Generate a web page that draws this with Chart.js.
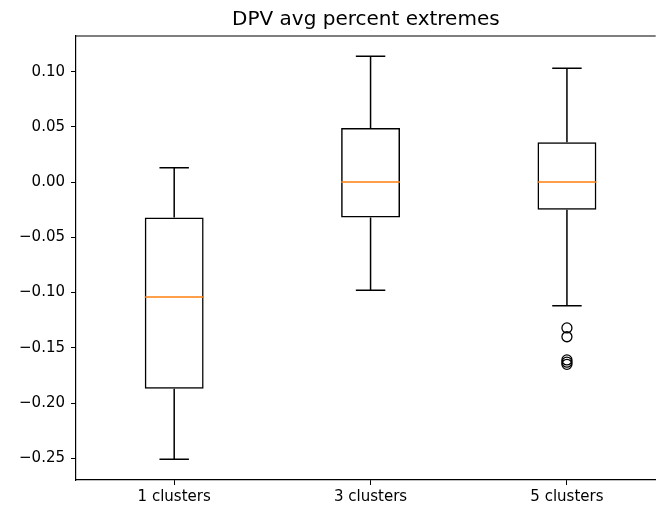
<!DOCTYPE html>
<html>
<head>
<meta charset="utf-8">
<script src="https://cdn.jsdelivr.net/npm/chart.js@4/dist/chart.umd.min.js"></script>
<style>
html,body{margin:0;padding:0;background:#fff;overflow:hidden;}
canvas{display:block;}
</style>
</head>
<body>
<canvas id="c" width="662" height="510" style="width:662px;height:510px"></canvas>
<script>
const titleText = 'DPV avg percent extremes';
const categories = ['1 clusters', '3 clusters', '5 clusters'];
const positions = [1, 2, 3];
const whiskerLow = [-0.251, -0.098, -0.112];
const q1 = [-0.187, -0.032, -0.025];
const medians = [-0.104, 0.0, 0.0];
const q3 = [-0.032, 0.049, 0.036];
const whiskerHigh = [0.013, 0.114, 0.103];
const outlierPosition = 3;
const outliers = [-0.132, -0.140, -0.161, -0.163, -0.165];
const yTicks = [-0.25, -0.20, -0.15, -0.10, -0.05, 0.00, 0.05, 0.10];
const yMin = -0.2697;
const yMax = 0.1323;
const xMin = 0.5;
const xMax = 3.452;

const FONT = 'DejaVu Sans';
const LW = 1.5;

const boxPlugin = {
  id: 'boxParts',
  afterDatasetsDraw(chart) {
    const ctx = chart.ctx;
    const xs = chart.scales.x, ys = chart.scales.y;
    const meta = chart.getDatasetMeta(0);
    ctx.save();
    ctx.lineWidth = LW;
    positions.forEach((p, i) => {
      const x = xs.getPixelForValue(p);
      const w = meta.data[i].width;
      const capHalf = w / 4;
      ctx.strokeStyle = '#000';
      ctx.beginPath();
      ctx.moveTo(x, ys.getPixelForValue(q3[i]));
      ctx.lineTo(x, ys.getPixelForValue(whiskerHigh[i]));
      ctx.moveTo(x, ys.getPixelForValue(q1[i]));
      ctx.lineTo(x, ys.getPixelForValue(whiskerLow[i]));
      const yh = ys.getPixelForValue(whiskerHigh[i]);
      const yl = ys.getPixelForValue(whiskerLow[i]);
      ctx.moveTo(x - capHalf, yh); ctx.lineTo(x + capHalf, yh);
      ctx.moveTo(x - capHalf, yl); ctx.lineTo(x + capHalf, yl);
      ctx.stroke();
      const ym = ys.getPixelForValue(medians[i]);
      ctx.strokeStyle = '#ff7f0e';
      ctx.beginPath();
      ctx.moveTo(x - w / 2, ym); ctx.lineTo(x + w / 2, ym);
      ctx.stroke();
    });
    const a = chart.chartArea;
    ctx.strokeStyle = '#000';
    ctx.lineWidth = 1.2;
    ctx.beginPath();
    ctx.moveTo(a.left, a.top); ctx.lineTo(a.right, a.top);
    ctx.stroke();
    ctx.restore();
  }
};

new Chart(document.getElementById('c'), {
  type: 'bar',
  data: {
    datasets: [
      {
        label: 'box',
        data: positions.map((p, i) => ({ x: p, y: [q1[i], q3[i]] })),
        backgroundColor: 'rgba(0,0,0,0)',
        borderColor: '#000',
        borderWidth: LW,
        borderSkipped: false,
        categoryPercentage: 1.0,
        barPercentage: 0.3
      },
      {
        type: 'line',
        label: 'outliers',
        data: outliers.map(v => ({ x: outlierPosition, y: v })),
        showLine: false,
        pointStyle: 'circle',
        pointRadius: 5,
        pointBorderColor: '#000',
        pointBackgroundColor: 'rgba(0,0,0,0)',
        pointBorderWidth: 1.3
      }
    ]
  },
  options: {
    responsive: false,
    animation: false,
    devicePixelRatio: 1,
    layout: { padding: { left: 0, right: 0, top: 0, bottom: 0 } },
    plugins: {
      legend: { display: false },
      tooltip: { enabled: false },
      title: {
        display: true,
        text: titleText,
        fullSize: false,
        color: '#000',
        font: { family: FONT, size: 20, weight: 'normal' },
        padding: { top: 8, bottom: 4 }
      }
    },
    scales: {
      x: {
        type: 'linear',
        min: xMin,
        max: xMax,
        offset: false,
        grid: { display: true, offset: false, drawOnChartArea: false, drawTicks: true, tickLength: 5, tickColor: '#000' },
        border: { display: true, color: '#000', width: 1.2 },
        ticks: {
          color: '#000',
          font: { family: FONT, size: 15 },
          padding: 3,
          maxRotation: 0,
          autoSkip: false,
          callback: v => { const k = positions.indexOf(v); return k >= 0 ? categories[k] : ''; }
        },
        afterBuildTicks(s) { s.ticks = positions.map(v => ({ value: v })); },
        afterFit(s) { s.height = 30; }
      },
      y: {
        type: 'linear',
        min: yMin,
        max: yMax,
        grid: { display: true, drawOnChartArea: false, drawTicks: true, tickLength: 5, tickColor: '#000' },
        border: { display: true, color: '#000', width: 1.2 },
        ticks: {
          color: '#000',
          font: { family: FONT, size: 15 },
          padding: 6,
          callback: v => (v < 0 ? '\u2212' : '') + Math.abs(v).toFixed(2)
        },
        afterBuildTicks(s) { s.ticks = yTicks.map(v => ({ value: v })); },
        afterFit(s) { s.width = 76; }
      }
    }
  },
  plugins: [boxPlugin]
});
</script>
</body>
</html>
